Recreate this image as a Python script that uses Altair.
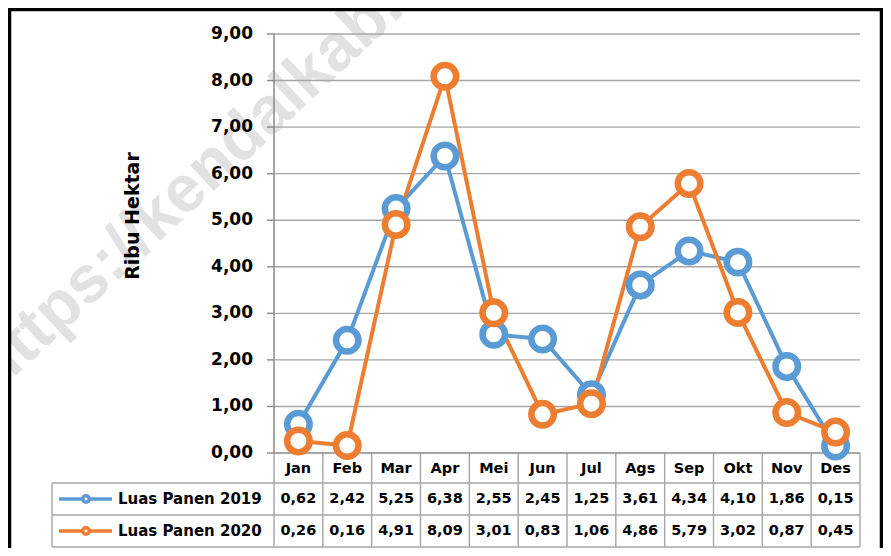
import altair as alt
import pandas as pd

# ---------------- data ----------------
months = ["Jan", "Feb", "Mar", "Apr", "Mei", "Jun", "Jul", "Ags", "Sep", "Okt", "Nov", "Des"]
panen_2019 = [0.62, 2.42, 5.25, 6.38, 2.55, 2.45, 1.25, 3.61, 4.34, 4.10, 1.86, 0.15]
panen_2020 = [0.26, 0.16, 4.91, 8.09, 3.01, 0.83, 1.06, 4.86, 5.79, 3.02, 0.87, 0.45]
series_names = ["Luas Panen 2019", "Luas Panen 2020"]
y_ticks = [0, 1, 2, 3, 4, 5, 6, 7, 8, 9]
y_title = "Ribu Hektar"
watermark = "https://kendalkab.bps.go.id"

# ---------------- styles / layout ----------------
colors = ["#5B9BD5", "#ED7D31"]
FONT = "DejaVu Sans"
GRID = "#a6a6a6"
AXIS = "#8a8a8a"

PLOT_LEFT, AXIS_X, RIGHT = 52, 274, 860      # page px
TOP, ZERO_Y, BOTTOM = 34, 453, 547           # page px
W = RIGHT - PLOT_LEFT
H = BOTTOM - TOP
XU = (RIGHT - AXIS_X) / len(months)
YU = (ZERO_Y - TOP) / max(y_ticks)
XMIN = -(AXIS_X - PLOT_LEFT) / XU
YMIN = -(BOTTOM - ZERO_Y) / YU

xscale = alt.Scale(domain=[XMIN, len(months)], nice=False, zero=False)
yscale = alt.Scale(domain=[YMIN, max(y_ticks)], nice=False, zero=False)


def rx(page_x):
    return page_x - PLOT_LEFT


def ry(page_y):
    return page_y - TOP


rows = []
for s, vals in zip(series_names, [panen_2019, panen_2020]):
    for i, (m, v) in enumerate(zip(months, vals)):
        rows.append({"series": s, "month": m, "idx": i, "value": v,
                     "label": f"{v:.2f}".replace(".", ",")})
df = pd.DataFrame(rows)
mdf = pd.DataFrame({"month": months, "idx": list(range(len(months)))})
bdf = pd.DataFrame({"b": list(range(len(months) + 1))})
gdf = pd.DataFrame({"v": y_ticks,
                    "lab": [f"{v:.2f}".replace(".", ",") for v in y_ticks]})

color_scale = alt.Scale(domain=series_names, range=colors)

# ---------------- layers ----------------
wm = alt.Chart(pd.DataFrame({"t": [watermark]})).mark_text(
    font="Liberation Sans", fontWeight="bold", fontSize=66, color="#e2e2e2",
    angle=317, align="left", baseline="alphabetic"
).encode(x=alt.value(rx(-4)), y=alt.value(ry(394)), text="t:N")

YV = alt.Y("v:Q", scale=yscale, axis=None)

grid = alt.Chart(gdf).transform_filter("datum.v > 0").mark_rule(
    color=GRID, strokeWidth=1.4
).encode(y=YV, x=alt.value(rx(AXIS_X)), x2=alt.value(rx(RIGHT)))

ticks = alt.Chart(gdf).mark_rule(color=AXIS, strokeWidth=1.4).encode(
    y=YV, x=alt.value(rx(AXIS_X - 7)), x2=alt.value(rx(AXIS_X)))

tick_labels = alt.Chart(gdf).mark_text(
    font=FONT, fontWeight="bold", fontSize=17, color="black",
    align="right", baseline="middle"
).encode(y=YV, x=alt.value(rx(AXIS_X - 21)), text="lab:N")

title = alt.Chart(pd.DataFrame({"t": [y_title]})).mark_text(
    font=FONT, fontWeight="bold", fontSize=19, color="black",
    angle=270, align="center", baseline="middle"
).encode(x=alt.value(rx(133)), y=alt.value(ry(216)), text="t:N")

zero_line = alt.Chart(pd.DataFrame({"v": [0]})).mark_rule(
    color=AXIS, strokeWidth=1.5
).encode(y=YV, x=alt.value(rx(AXIS_X)), x2=alt.value(rx(RIGHT)))

y_axis_line = alt.Chart(pd.DataFrame({"v": [0], "v2": [max(y_ticks)]})).mark_rule(
    color=AXIS, strokeWidth=1.5
).encode(y=YV, y2="v2:Q", x=alt.value(rx(AXIS_X)))

# table structure
col_lines = alt.Chart(bdf).mark_rule(color=GRID, strokeWidth=1.4).encode(
    x=alt.X("b:Q", scale=xscale, axis=None),
    y=alt.value(ry(ZERO_Y)), y2=alt.value(ry(BOTTOM)),
)
row_edges_px = [483, 515, 547]
row_lines = alt.Chart(pd.DataFrame({"v": [(ZERO_Y - p) / YU for p in row_edges_px]})).mark_rule(
    color=GRID, strokeWidth=1.4
).encode(y=YV, x=alt.value(rx(PLOT_LEFT)), x2=alt.value(rx(RIGHT)))
left_border = alt.Chart(pd.DataFrame({"a": [0]})).mark_rule(
    color=GRID, strokeWidth=1.4
).encode(x=alt.value(rx(PLOT_LEFT)), y=alt.value(ry(483)), y2=alt.value(ry(BOTTOM)))

base = alt.Chart(df).transform_calculate(xc="datum.idx + 0.5")
X = alt.X("xc:Q", scale=xscale, axis=None)
Y = alt.Y("value:Q", scale=yscale, axis=None)

lines = base.mark_line(strokeWidth=4).encode(
    x=X, y=Y,
    color=alt.Color("series:N", scale=color_scale, legend=None),
)
points = base.mark_point(
    shape="circle", filled=False, fill="white", fillOpacity=1, opacity=1,
    size=506, strokeWidth=6.5
).encode(
    x=X, y=Y,
    stroke=alt.Stroke("series:N", scale=color_scale, legend=None),
)

month_text = alt.Chart(mdf).transform_calculate(xc="datum.idx + 0.5").mark_text(
    font=FONT, fontWeight="bold", fontSize=14.5, color="black", baseline="middle"
).encode(x=X, y=alt.value(ry(469)), text="month:N")

table_layers = []
row_centers = [499, 531]
for s, c, rc in zip(series_names, colors, row_centers):
    sub = base.transform_filter(alt.datum.series == s)
    table_layers.append(sub.mark_text(
        font=FONT, fontWeight="bold", fontSize=14.5, color="black", baseline="middle"
    ).encode(x=X, y=alt.value(ry(rc)), text="label:N"))
    leg = alt.Chart(pd.DataFrame({"series": [s]}))
    table_layers.append(leg.mark_rule(color=c, strokeWidth=3.5).encode(
        x=alt.value(rx(59)), x2=alt.value(rx(112)), y=alt.value(ry(rc))))
    table_layers.append(leg.mark_point(
        shape="circle", filled=False, fill="white", fillOpacity=1, opacity=1,
        color=c, size=42, strokeWidth=3.5
    ).encode(x=alt.value(rx(86)), y=alt.value(ry(rc))))
    table_layers.append(leg.mark_text(
        font=FONT, fontWeight="bold", fontSize=15, color="black",
        align="left", baseline="middle"
    ).encode(x=alt.value(rx(118)), y=alt.value(ry(rc)), text="series:N"))

frame = alt.Chart(pd.DataFrame({"a": [0]})).mark_rect(
    fill="transparent", stroke="black", strokeWidth=3.5
).encode(x=alt.value(rx(9.5)), x2=alt.value(rx(881.5)),
         y=alt.value(ry(9.5)), y2=alt.value(ry(600)))

chart = alt.layer(
    wm, grid, col_lines, row_lines, left_border, zero_line, y_axis_line, ticks,
    tick_labels, title, lines, points, month_text, *table_layers, frame
).properties(
    width=W, height=H,
    autosize=alt.AutoSizeParams(type="none"),
    padding={"left": PLOT_LEFT - 8, "top": TOP - 8,
             "right": 875 - (PLOT_LEFT - 8) - W, "bottom": 540 - (TOP - 8) - H},
    background="white",
).configure_view(strokeWidth=0)

chart.save("out.html", embed_options={"renderer": "svg", "actions": False})
